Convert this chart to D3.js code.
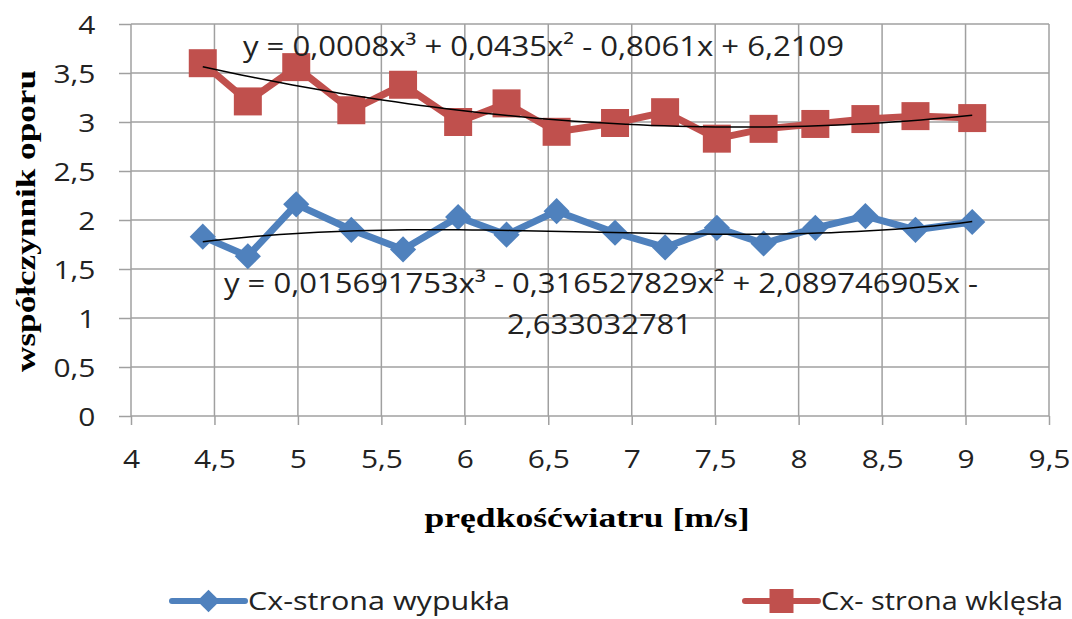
<!DOCTYPE html>
<html>
<head>
<meta charset="utf-8">
<script src="https://cdn.jsdelivr.net/npm/d3@7"></script>
<style>
  body { margin: 0; background: #fff; }
  svg { display: block; }
</style>
</head>
<body>
<svg id="svg" width="1072" height="619"></svg>
<script>
// pomiary: prędkość wiatru i współczynnik oporu Cx
const speeds = [4.43, 4.70, 4.99, 5.32, 5.63, 5.96, 6.25, 6.55, 6.90, 7.20, 7.51, 7.79, 8.10, 8.40, 8.70, 9.04];
const cxConvex = [1.83, 1.63, 2.16, 1.90, 1.70, 2.03, 1.85, 2.09, 1.87, 1.72, 1.92, 1.76, 1.92, 2.04, 1.90, 1.98];
const cxConcave = [3.60, 3.21, 3.56, 3.12, 3.38, 3.00, 3.19, 2.90, 2.99, 3.10, 2.83, 2.93, 2.98, 3.03, 3.06, 3.04];

// współczynniki wielomianów trendu (a0 + a1 x + a2 x^2 + a3 x^3)
const trendConvex = [-2.633032781, 2.089746905, -0.316527829, 0.015691753];
const trendConcave = [6.2109, -0.8061, 0.0435, 0.0008];

const xTicks = [4, 4.5, 5, 5.5, 6, 6.5, 7, 7.5, 8, 8.5, 9, 9.5];
const yTicks = [0, 0.5, 1, 1.5, 2, 2.5, 3, 3.5, 4];

const seriesNames = ['Cx-strona wypukła', 'Cx- strona wklęsła'];
const eqConcave = ['y = 0,0008x³ + 0,0435x² - 0,8061x + 6,2109'];
const eqConvex = ['y = 0,015691753x³ - 0,316527829x² + 2,089746905x -', '2,633032781'];

document.addEventListener('DOMContentLoaded', () => {
    const svg = d3.select('#svg');
    const blue = '#4f81bd', red = '#c0504d', grid = '#a0a0a0';
    const sans = '"Open Sans", "Noto Sans", sans-serif';
    const serif = '"Liberation Serif", "DejaVu Serif", serif';

    const pl = d3.formatLocale({decimal: ',', thousands: ' ', grouping: [3], currency: ['', ' zł']});
    const fmt = pl.format('~g');

    const x = d3.scaleLinear().domain([4, 9.5]).range([131, 1049]);
    const y = d3.scaleLinear().domain([0, 4]).range([416, 24]);

    // siatka
    svg.append('g').selectAll('line.vx')
       .data(xTicks).enter().append('line')
       .attr('x1', d => x(d)).attr('x2', d => x(d))
       .attr('y1', y(0)).attr('y2', y(4))
       .attr('stroke', grid).attr('stroke-width', 1.5);
    svg.append('g').selectAll('line.hy')
       .data(yTicks).enter().append('line')
       .attr('x1', x(4)).attr('x2', x(9.5))
       .attr('y1', d => y(d)).attr('y2', d => y(d))
       .attr('stroke', grid).attr('stroke-width', 1.5);

    // osie
    const gx = svg.append('g')
       .attr('transform', `translate(0,${y(0)})`)
       .call(d3.axisBottom(x).tickValues(xTicks).tickSize(9).tickFormat(fmt));
    gx.select('.domain').remove();
    gx.selectAll('.tick line').attr('stroke', grid).attr('stroke-width', 1.5);
    gx.selectAll('.tick text')
      .attr('y', 52).attr('dy', 0)
      .attr('transform', 'scale(1.15,1)')
      .style('font-family', sans).style('font-size', '26px').attr('fill', '#222');

    const gy = svg.append('g')
       .attr('transform', `translate(${x(4)},0)`)
       .call(d3.axisLeft(y).tickValues(yTicks).tickSize(12).tickFormat(fmt));
    gy.select('.domain').remove();
    gy.selectAll('.tick line').attr('stroke', grid).attr('stroke-width', 1.5);
    gy.selectAll('.tick text')
      .attr('x', -31).attr('dy', '0.36em')
      .attr('transform', 'scale(1.15,1)')
      .style('font-family', sans).style('font-size', '26px').attr('fill', '#222');

    // serie
    const line = d3.line().x(d => x(d[0])).y(d => y(d[1]));
    const series = [
        {vals: cxConvex, color: blue, shape: 'diamond'},
        {vals: cxConcave, color: red, shape: 'square'}
    ];
    series.forEach(s => {
        const pts = speeds.map((v, i) => [v, s.vals[i]]);
        svg.append('path')
           .attr('d', line(pts))
           .attr('fill', 'none')
           .attr('stroke', s.color)
           .attr('stroke-width', 7)
           .attr('stroke-linejoin', 'round');
        const sym = s.shape == 'diamond'
            ? d3.symbol().type(d3.symbolSquare).size(18.5 * 18.5)
            : d3.symbol().type(d3.symbolSquare).size(28 * 28);
        svg.append('g').selectAll('path')
           .data(pts).enter().append('path')
           .attr('d', sym)
           .attr('transform', d => `translate(${x(d[0])},${y(d[1])})` + (s.shape == 'diamond' ? ' rotate(45)' : ''))
           .attr('fill', s.color);
    });

    // linie trendu
    const poly = (c, v) => c[0] + c[1] * v + c[2] * v * v + c[3] * v * v * v;
    const x0 = speeds[0], x1 = speeds[speeds.length - 1];
    [trendConvex, trendConcave].forEach(c => {
        const pts = d3.range(0, 61).map(i => {
            const v = x0 + (x1 - x0) * i / 60;
            return [v, poly(c, v)];
        });
        svg.append('path')
           .attr('d', line(pts))
           .attr('fill', 'none')
           .attr('stroke', '#000')
           .attr('stroke-width', 1.5);
    });

    // równania
    svg.append('text')
       .attr('x', 243).attr('y', 56)
       .attr('textLength', 601).attr('lengthAdjust', 'spacingAndGlyphs')
       .style('font-family', sans).style('font-size', '28px').attr('fill', '#222')
       .text(eqConcave[0]);
    svg.append('text')
       .attr('x', 224).attr('y', 293)
       .attr('textLength', 754).attr('lengthAdjust', 'spacingAndGlyphs')
       .style('font-family', sans).style('font-size', '28px').attr('fill', '#222')
       .text(eqConvex[0]);
    svg.append('text')
       .attr('x', 507).attr('y', 334)
       .attr('textLength', 185).attr('lengthAdjust', 'spacingAndGlyphs')
       .style('font-family', sans).style('font-size', '28px').attr('fill', '#222')
       .text(eqConvex[1]);

    // tytuły osi
    svg.append('text')
       .attr('x', 587).attr('y', 527)
       .attr('text-anchor', 'middle')
       .attr('textLength', 325).attr('lengthAdjust', 'spacingAndGlyphs')
       .style('font-family', serif).style('font-size', '28px').style('font-weight', 'bold')
       .text('prędkośćwiatru [m/s]');
    svg.append('text')
       .attr('transform', 'translate(35,221) rotate(-90)')
       .attr('text-anchor', 'middle')
       .attr('textLength', 302).attr('lengthAdjust', 'spacingAndGlyphs')
       .style('font-family', serif).style('font-size', '28px').style('font-weight', 'bold')
       .text('współczynnik oporu');

    // legenda
    const legend = [
        {name: seriesNames[0], color: blue, shape: 'diamond', x0: 172, tx: 248, tw: 262},
        {name: seriesNames[1], color: red, shape: 'square', x0: 745, tx: 821, tw: 242}
    ];
    legend.forEach(l => {
        const ly = 601;
        svg.append('line')
           .attr('x1', l.x0).attr('x2', l.x0 + 73)
           .attr('y1', ly).attr('y2', ly)
           .attr('stroke', l.color).attr('stroke-width', 6)
           .attr('stroke-linecap', 'round');
        const sym = l.shape == 'diamond'
            ? d3.symbol().type(d3.symbolSquare).size(16 * 16)
            : d3.symbol().type(d3.symbolSquare).size(24 * 24);
        svg.append('path')
           .attr('d', sym)
           .attr('transform', `translate(${l.x0 + 36.5},${ly})` + (l.shape == 'diamond' ? ' rotate(45)' : ''))
           .attr('fill', l.color);
        svg.append('text')
           .attr('x', l.tx).attr('y', 610)
           .attr('textLength', l.tw).attr('lengthAdjust', 'spacingAndGlyphs')
           .style('font-family', sans).style('font-size', '25px').attr('fill', '#222')
           .text(l.name);
    });
});
</script>
</body>
</html>
